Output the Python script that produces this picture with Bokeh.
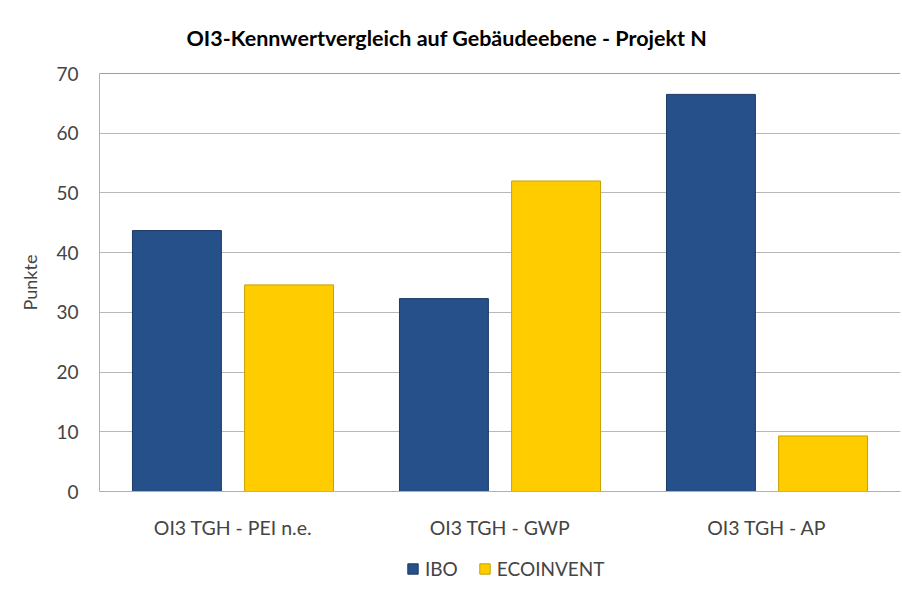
from bokeh.plotting import figure
from bokeh.layouts import column
from bokeh.models import (ColumnDataSource, FactorRange, Range1d, FixedTicker, Legend, LegendItem, Span)
from bokeh.transform import dodge
from bokeh.embed import file_html
from bokeh.resources import INLINE

categories = ["OI3 TGH - PEI n.e.", "OI3 TGH - GWP", "OI3 TGH - AP"]
ibo = [43.7, 32.3, 66.5]
ecoinvent = [34.6, 52.0, 9.3]
series_names = ["IBO", "ECOINVENT"]
y_ticks = [0, 10, 20, 30, 40, 50, 60, 70]

FONT = "Lato"
IBO_FILL, IBO_LINE = "#26508A", "#1B3A66"
ECO_FILL, ECO_LINE = "#FFCC00", "#C9A000"
src = ColumnDataSource(dict(cat=categories, ibo=ibo, eco=ecoinvent))

p = figure(x_range=FactorRange(factors=categories), y_range=Range1d(0, 70),
           width=902, height=550, output_backend="svg", toolbar_location=None,
           min_border_left=99, min_border_right=2, min_border_top=71, min_border_bottom=59,
           border_fill_color="white")

p.title.text = "OI3-Kennwertvergleich auf Gebäudeebene - Projekt N"
p.title.text_font = FONT
p.title.text_font_size = "21.5px"
p.title.text_font_style = "bold"
p.title.align = "left"
p.title.offset = 87
p.title.standoff = 45
p.title.text_color = "#000000"

r1 = p.vbar(x=dodge("cat", -0.21, range=p.x_range), top="ibo", width=0.333, source=src,
            fill_color=IBO_FILL, line_color=IBO_LINE, line_width=1)
r2 = p.vbar(x=dodge("cat", 0.21, range=p.x_range), top="eco", width=0.333, source=src,
            fill_color=ECO_FILL, line_color=ECO_LINE, line_width=1)

p.yaxis.ticker = FixedTicker(ticks=y_ticks)
p.yaxis.axis_label = "Punkte"
p.yaxis.axis_label_text_font = FONT
p.yaxis.axis_label_text_font_size = "18px"
p.yaxis.axis_label_text_font_style = "normal"
p.yaxis.axis_label_standoff = 12
p.yaxis.major_label_text_font = FONT
p.yaxis.major_label_text_font_size = "19px"
p.yaxis.major_label_standoff = 15
p.yaxis.major_tick_line_color = None
p.yaxis.minor_tick_line_color = None
p.yaxis.axis_line_color = "#b0b0b0"

p.xaxis.major_label_text_font = FONT
p.xaxis.major_label_text_font_size = "19.5px"
p.xaxis.major_label_standoff = 18
p.xaxis.major_tick_line_color = None
p.xaxis.axis_line_color = "#b0b0b0"

p.xgrid.grid_line_color = None
p.ygrid.ticker = FixedTicker(ticks=y_ticks)
p.ygrid.grid_line_color = "#b8b8b8"
p.ygrid.grid_line_width = 1
p.outline_line_color = None
p.add_layout(Span(location=70, dimension="width", line_color="#404040", line_width=1))

# legend strip below the chart (its bars lie below its view, only the legend shows)
lg = figure(x_range=FactorRange(factors=categories), y_range=Range1d(100, 110),
            width=902, height=40, output_backend="svg", toolbar_location=None,
            x_axis_type=None, y_axis_type=None,
            min_border=0, border_fill_color="white", outline_line_color=None)
lg.grid.visible = False
l1 = lg.vbar(x=dodge("cat", -0.21, range=lg.x_range), top="ibo", width=0.333, source=src,
             fill_color=IBO_FILL, line_color=IBO_LINE)
l2 = lg.vbar(x=dodge("cat", 0.21, range=lg.x_range), top="eco", width=0.333, source=src,
             fill_color=ECO_FILL, line_color=ECO_LINE)
legend = Legend(items=[LegendItem(label=series_names[0], renderers=[l1]),
                       LegendItem(label=series_names[1], renderers=[l2])],
                orientation="horizontal", location=(307, 10),
                label_text_font=FONT, label_text_font_size="19px",
                glyph_width=13, glyph_height=13, spacing=20, label_standoff=6,
                label_height=20,
                border_line_color=None, background_fill_alpha=0, padding=0, margin=0)
lg.add_layout(legend, "center")

open("out.html", "w").write(file_html(column(p, lg, spacing=0), INLINE))
